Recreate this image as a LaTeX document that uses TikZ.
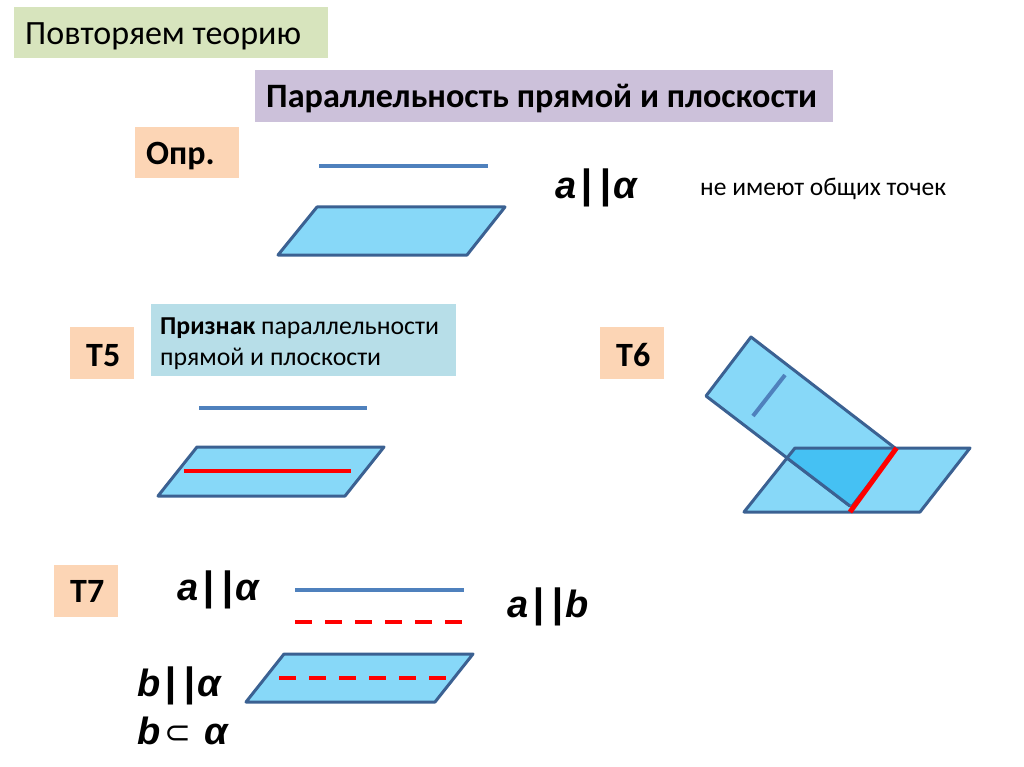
\documentclass[tikz,border=0pt]{standalone}
\usepackage{fontspec}
\setmainfont{Carlito}
\newfontfamily\arialf{Liberation Sans}
\newfontfamily\dejaf{DejaVu Sans}
\newcommand{\parl}{\kern4.5pt{\fontsize{41}{41}\selectfont|\kern7pt|}\kern3pt}
\tikzset{
 x=1pt,y=-1pt,
 lab/.style={inner sep=0pt,anchor=base west,text=black},
 plane/.style={draw=planeedge,fill=planelight,line width=3pt,line join=round},
 lineblue/.style={draw=lineb,line width=4pt},
 linered/.style={draw=red,line width=4pt},
 dashred/.style={draw=red,line width=4pt,dash pattern=on 17pt off 13pt},
 math/.style={inner sep=0pt,anchor=base west,font=\arialf\bfseries\itshape\fontsize{38}{38}\selectfont},
}
\definecolor{planeedge}{HTML}{3B6192}
\definecolor{planelight}{HTML}{87D8F8}
\definecolor{planedark}{HTML}{45C1F3}
\definecolor{lineb}{HTML}{4F81BD}
\definecolor{green1}{HTML}{D7E4BD}
\definecolor{lilac}{HTML}{CCC1DA}
\definecolor{peach}{HTML}{FCD5B5}
\definecolor{aqua}{HTML}{B7DEE8}
\begin{document}
\begin{tikzpicture}
\useasboundingbox (0,0) rectangle (1024,767);
\fill[white] (0,0) rectangle (1024,767);
% boxes
\fill[green1] (14,7) rectangle (328,58);
\fill[lilac] (255,70) rectangle (833,122);
\fill[peach] (135,127) rectangle (239,178);
\fill[aqua] (151,304) rectangle (456,376);
\fill[peach] (70,327) rectangle (134,379);
\fill[peach] (600,327) rectangle (664,379);
\fill[peach] (54,565) rectangle (118,617);
% labels
\node[lab,font=\fontsize{34}{34}\selectfont] (t0) at (25,45) {Повторяем теорию};
\node[lab,font=\bfseries\fontsize{34.2}{34}\selectfont] (t1) at (266,108) {Параллельность прямой и плоскости};
\node[lab,font=\bfseries\fontsize{34}{34}\selectfont] (t2) at (146,165) {Опр.};
\node[lab,font=\fontsize{25.5}{24}\selectfont] (t3) at (700,196) {не имеют общих точек};
\node[lab,font=\fontsize{25.8}{24}\selectfont] (t4) at (160,334) {\textbf{Признак} параллельности};
\node[lab,font=\fontsize{25.8}{24}\selectfont] (t5) at (160,365) {прямой и плоскости};
\node[lab,font=\bfseries\fontsize{34}{34}\selectfont] (t6) at (86,366) {Т5};
\node[lab,font=\bfseries\fontsize{34}{34}\selectfont] (t7) at (616,366) {Т6};
\node[lab,font=\bfseries\fontsize{34}{34}\selectfont] (t8) at (70,602) {Т7};
\node[math] (m1) at (555,199) {a\parl α};
\node[math] (m2) at (177,600) {a\parl α};
\node[math] (m3) at (507,617) {a\parl b};
\node[math] (m4) at (137,696) {b\parl α};
\node[math] (m5) at (137,744) {b};
\node[math] (m6) at (204,744) {α};
\node[inner sep=0pt,anchor=base west,font=\dejaf\fontsize{32}{32}\selectfont] (m7) at (164,743) {⊂};
% Opr figure
\coordinate (a1) at (319,166.5); \coordinate (a2) at (488,166.5);
\draw[lineblue] (a1) -- (a2);
\draw[plane] (317,207) -- (505,207) -- (467,255) -- (278,255) -- cycle;
% T5 figure
\coordinate (b1) at (199,407.5); \coordinate (b2) at (367,407.5);
\draw[lineblue] (b1) -- (b2);
\draw[plane] (197,447) -- (384,447) -- (345,496) -- (158,496) -- cycle;
\coordinate (c1) at (184,471); \coordinate (c2) at (351,471);
\draw[linered] (c1) -- (c2);
% T6 figure
\draw[plane] (795,448) -- (970,448) -- (920,512) -- (744,512) -- cycle;
\draw[plane] (751,337) -- (895,448) -- (850,506) -- (706,396) -- cycle;
\fill[planedark] (795,448) -- (895,448) -- (850,506) -- (787,458) -- cycle;
\draw[planeedge,line width=3pt,line join=round] (787,458) -- (795,448) -- (895,448);
\draw[planeedge,line width=3pt,line join=round] (787,458) -- (850,506);
\coordinate (d1) at (785,375); \coordinate (d2) at (753,416);
\draw[lineblue] (d1) -- (d2);
\coordinate (e1) at (896.5,448); \coordinate (e2) at (850,512);
\draw[draw=red,line width=5pt] (e1) -- (e2);
% T7 figure
\coordinate (f1) at (295,589.5); \coordinate (f2) at (464,589.5);
\draw[lineblue] (f1) -- (f2);
\coordinate (g1) at (295,622); \coordinate (g2) at (463,622);
\draw[dashred] (g1) -- (g2);
\draw[plane] (284,654) -- (473,654) -- (435,702) -- (246,702) -- cycle;
\coordinate (h1) at (279,678); \coordinate (h2) at (447,678);
\draw[dashred] (h1) -- (h2);
\end{tikzpicture}
\end{document}
